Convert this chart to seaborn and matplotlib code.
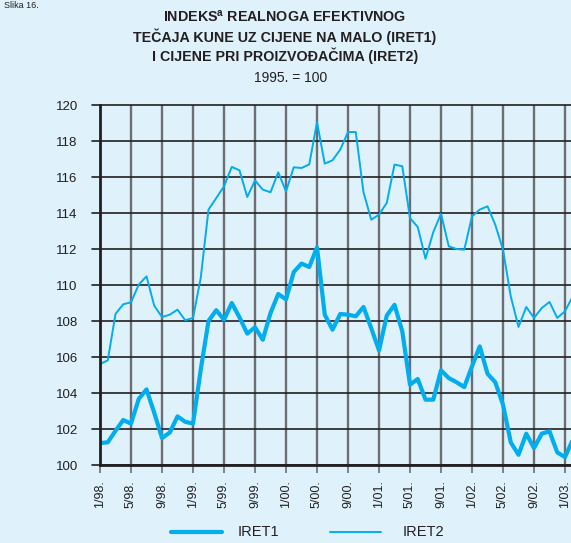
import matplotlib
matplotlib.use("Agg")
import matplotlib.pyplot as plt
import seaborn as sns
import pandas as pd
import numpy as np

iret1 = [101.22, 101.26, 101.9, 102.5, 102.3, 103.67, 104.2, 102.9, 101.5, 101.8,
         102.7, 102.4, 102.3, 105.3, 108.0, 108.6, 108.07, 109.0, 108.2, 107.3,
         107.65, 106.96, 108.44, 109.5, 109.2, 110.72, 111.19, 111.0, 112.09, 108.35,
         107.52, 108.39, 108.35, 108.26, 108.78, 107.6, 106.37, 108.3, 108.9, 107.43,
         104.46, 104.78, 103.63, 103.63, 105.26, 104.83, 104.6, 104.33, 105.48, 106.59,
         105.07, 104.6, 103.35, 101.26, 100.57, 101.74, 100.94, 101.74, 101.87, 100.7,
         100.44, 101.4]
iret2 = [105.61, 105.81, 108.39, 108.93, 109.04, 110.02, 110.48, 108.85, 108.22, 108.35,
         108.63, 108.04, 108.17, 110.4, 114.19, 114.83, 115.48, 116.56, 116.37, 114.89,
         115.81, 115.3, 115.15, 116.26, 115.2, 116.54, 116.5, 116.7, 119.04, 116.74,
         116.93, 117.52, 118.5, 118.5, 115.15, 113.63, 113.91, 114.56, 116.69, 116.6,
         113.72, 113.22, 111.46, 112.93, 113.96, 112.15, 112.0, 111.96, 113.81, 114.19,
         114.37, 113.35, 111.96, 109.37, 107.67, 108.78, 108.17, 108.72, 109.06, 108.17,
         108.54, 109.37]
tick_labels = ["1/98.", "5/98.", "9/98.", "1/99.", "5/99.", "9/99.", "1/00.", "5/00.",
               "9/00.", "1/01.", "5/01.", "9/01.", "1/02.", "5/02.", "9/02.", "1/03."]
y_ticks = [100, 102, 104, 106, 108, 110, 112, 114, 116, 118, 120]

sns.set_theme(style="white")
plt.rcParams['font.family'] = ['Liberation Sans', 'DejaVu Sans']
plt.rcParams['mathtext.fontset'] = 'custom'
plt.rcParams['mathtext.rm'] = 'Liberation Sans:bold'
plt.rcParams['mathtext.bf'] = 'Liberation Sans:bold'

BG = '#dff1fb'
LC = '#00aeef'
TXT = '#231f20'
W, H = 571, 543
fig = plt.figure(figsize=(W / 100, H / 100), dpi=100, facecolor=BG)

px_per_month = 7.75
xmax = 62
ax = fig.add_axes([100 / W, (H - 465) / H, xmax * px_per_month / W, 360 / H])
ax.set_facecolor(BG)

n = len(iret1)
df = pd.DataFrame({"m": list(range(n)) * 2,
                   "v": iret1 + iret2,
                   "s": ["IRET1"] * n + ["IRET2"] * n})

sns.lineplot(data=df[df.s == "IRET1"], x="m", y="v", color=LC, linewidth=3.0, ax=ax,
             legend=False, zorder=5)
sns.lineplot(data=df[df.s == "IRET2"], x="m", y="v", color=LC, linewidth=1.4, ax=ax,
             legend=False, zorder=5)

ax.set_xlim(0, xmax)
ax.set_ylim(100, 120)
ax.set_xlabel("")
ax.set_ylabel("")

ax.set_yticks(y_ticks)
ax.set_yticklabels([str(t) for t in y_ticks], fontsize=9.5, color=TXT)
xt = list(range(0, 4 * len(tick_labels), 4))
ax.set_xticks(xt)
ax.set_xticklabels(tick_labels, rotation=90, fontsize=9, color=TXT, va='top')

for y in y_ticks:
    ax.axhline(y, color=TXT, lw=1.2, zorder=2, clip_on=False,
               xmin=-8 / (xmax * px_per_month), xmax=1)
for x in xt[1:]:
    ax.axvline(x, color='#6d6e71', lw=1.7, zorder=1)

for s in ['top', 'right']:
    ax.spines[s].set_visible(False)
for s in ['left', 'bottom']:
    ax.spines[s].set_color(TXT)
    ax.spines[s].set_linewidth(2.0)
    ax.spines[s].set_zorder(6)
ax.tick_params(axis='y', length=0, pad=16)
ax.tick_params(axis='x', length=6, width=1.2, color='#6d6e71', direction='out', pad=5, bottom=True)

# Titles
cx = 285 / W
fig.text(cx, 1 - 17 / H, r"INDEKS$^{\mathrm{a}}$ REALNOGA EFEKTIVNOG", ha='center', va='center',
         fontsize=10.3, fontweight='bold', color=TXT)
fig.text(cx, 1 - 37 / H, "TEČAJA KUNE UZ CIJENE NA MALO (IRET1)", ha='center', va='center',
         fontsize=10.3, fontweight='bold', color=TXT)
fig.text(cx, 1 - 56 / H, "I CIJENE PRI PROIZVOĐAČIMA (IRET2)", ha='center', va='center',
         fontsize=10.3, fontweight='bold', color=TXT)
fig.text(cx + 6 / W, 1 - 78 / H, "1995. = 100", ha='center', va='center',
         fontsize=10, color=TXT)
fig.text(4 / W, 1 - 1 / H, "Slika 16.", ha='left', va='top', fontsize=6.5, color=TXT)

# Legend
ly = 1 - 532 / H
fig.add_artist(plt.Line2D([171 / W, 222 / W], [ly, ly], color=LC, lw=3.0))
fig.text(238 / W, ly, "IRET1", ha='left', va='center', fontsize=10.5, color=TXT)
fig.add_artist(plt.Line2D([330 / W, 381 / W], [ly, ly], color=LC, lw=1.4))
fig.text(403 / W, ly, "IRET2", ha='left', va='center', fontsize=10.5, color=TXT)

fig.savefig("out.png", dpi=100, facecolor=BG)
